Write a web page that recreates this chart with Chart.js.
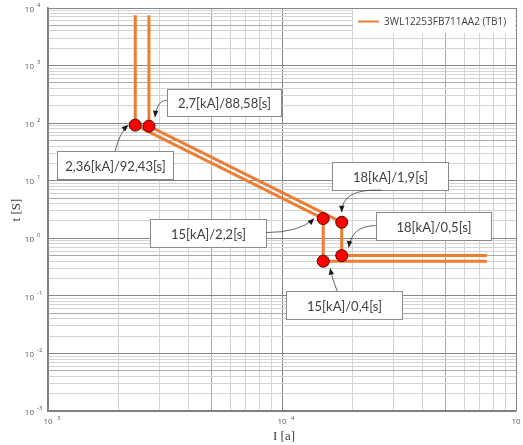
<!DOCTYPE html>
<html>
<head>
<meta charset="utf-8">
<script src="https://cdn.jsdelivr.net/npm/chart.js@4/dist/chart.umd.min.js"></script>
<style>
  html, body { margin: 0; padding: 0; background: #fff; }
  #wrap { width: 523px; height: 445px; }
</style>
</head>
<body>
<div id="wrap"><canvas id="tripChart" width="523" height="445"></canvas></div>
<script>
// curve of the breaker, two bands (current in A, time in s)
const bandLowI = [2360, 2360, 15000, 15000, 75000];
const bandLowT = [7500, 92.43, 2.2, 0.4, 0.4];
const bandHighI = [2700, 2700, 18000, 18000, 75000];
const bandHighT = [7500, 88.58, 1.9, 0.5, 0.5];

// marked points and their labels
const markI = [2360, 2700, 15000, 18000, 18000, 15000];
const markT = [92.43, 88.58, 2.2, 1.9, 0.5, 0.4];
const markText = ["2,36[kA]/92,43[s]", "2,7[kA]/88,58[s]", "15[kA]/2,2[s]",
                  "18[kA]/1,9[s]", "18[kA]/0,5[s]", "15[kA]/0,4[s]"];

const seriesName = "3WL12253FB711AA2 (TB1)";
const xDecades = [3, 4, 5];
const yDecades = [-3, -2, -1, 0, 1, 2, 3, 4];

// box placement relative to the marked point: [dx, dy, w, h]
const boxLayout = [
  [-78, 26, 116, 28], [18, -37, 114, 27], [-173, 0, 116, 28],
  [-10, -60, 116, 28], [34, -44, 115, 28], [-37, 30, 116, 28]
];
// arrow start, control, end relative to the marked point
const arrowLayout = [
  [[-20, 26], [-16, 8], [-7, 0]],
  [[18, -26], [8, -26], [6, -9]],
  [[-57, 14], [-24, 14], [-9, 0]],
  [[40, -32], [0, -34], [0, -10]],
  [[34, -30], [10, -30], [7, -8]],
  [[14, 30], [9, 18], [7, 7]]
];

const orange = "#ED7D31";

function logTicks(lo, hi) {
  const out = [];
  for (let e = lo; e < hi; e++) {
    for (let m = 1; m <= 9; m++) out.push(m * Math.pow(10, e));
  }
  out.push(Math.pow(10, hi));
  return out;
}

function gridColor(v) {
  const e = Math.floor(Math.log10(v) + 1e-9);
  const m = Math.round(v / Math.pow(10, e));
  if (m === 1) return "#858585";
  if (m === 5) return "#aaaaaa";
  return "#d4d4d4";
}

const toPts = (xs, ys) => xs.map((x, i) => ({ x: x, y: ys[i] }));

const overlay = {
  id: "overlay",
  afterDraw(chart) {
    const c = chart.ctx;
    const xs = chart.scales.x, ys = chart.scales.y;
    const area = chart.chartArea;
    c.save();

    // tick labels
    c.fillStyle = "#595959";
    c.textBaseline = "middle";
    yDecades.forEach(e => {
      const py = ys.getPixelForValue(Math.pow(10, e));
      c.font = "8px 'Open Sans'";
      c.textAlign = "right";
      c.fillText("10", 34, py + 1.5);
      c.font = "6px 'Open Sans'";
      c.textAlign = "left";
      c.fillText(String(e), 37, py - 3);
    });
    xDecades.forEach(e => {
      const px = xs.getPixelForValue(Math.pow(10, e));
      c.font = "8px 'Open Sans'";
      c.textAlign = "center";
      c.fillText("10", px, area.bottom + 11);
      c.font = "6px 'Open Sans'";
      c.textAlign = "left";
      c.fillText(String(e), px + 9, area.bottom + 7);
    });

    // axis titles
    c.fillStyle = "#404040";
    c.font = "13px 'Liberation Serif'";
    c.textAlign = "center";
    c.fillText("I [a]", 284, 437);
    c.save();
    c.translate(17, 210);
    c.rotate(-Math.PI / 2);
    c.fillText("t [S]", 0, 0);
    c.restore();

    // legend
    c.fillStyle = "#fff";
    c.fillRect(353, area.top + 1, area.right - 354, 24);
    c.strokeStyle = orange;
    c.lineWidth = 2;
    c.beginPath();
    c.moveTo(358, 21.5);
    c.lineTo(379, 21.5);
    c.stroke();
    c.fillStyle = "#404040";
    c.font = "10px 'Open Sans'";
    c.textAlign = "left";
    c.fillText(seriesName, 384, 22);

    // annotations
    markI.forEach((iv, k) => {
      const px = xs.getPixelForValue(iv);
      const py = ys.getPixelForValue(markT[k]);
      const [dx, dy, w, h] = boxLayout[k];
      const bx = Math.round(px + dx) + 0.5, by = Math.round(py + dy) + 0.5;
      c.fillStyle = "#fff";
      c.fillRect(bx, by, w, h);
      c.strokeStyle = "#8a8a8a";
      c.lineWidth = 1;
      c.strokeRect(bx, by, w, h);
      c.fillStyle = "#404040";
      c.font = "13px Lato";
      c.textAlign = "center";
      c.fillText(markText[k], bx + w / 2, by + h / 2 + 1);

      const [s, q, t] = arrowLayout[k];
      const sx = px + s[0], sy = py + s[1];
      const qx = px + q[0], qy = py + q[1];
      const tx = px + t[0], ty = py + t[1];
      c.strokeStyle = "#3f3f3f";
      c.lineWidth = 0.8;
      c.beginPath();
      c.moveTo(sx, sy);
      c.quadraticCurveTo(qx, qy, tx, ty);
      c.stroke();
      const ang = Math.atan2(ty - qy, tx - qx);
      c.fillStyle = "#1a1a1a";
      c.beginPath();
      c.moveTo(tx, ty);
      c.lineTo(tx - 7 * Math.cos(ang - 0.4), ty - 7 * Math.sin(ang - 0.4));
      c.lineTo(tx - 7 * Math.cos(ang + 0.4), ty - 7 * Math.sin(ang + 0.4));
      c.closePath();
      c.fill();
    });
    c.restore();
  }
};

new Chart(document.getElementById("tripChart").getContext("2d"), {
  type: "scatter",
  data: {
    datasets: [
      {
        label: seriesName,
        data: toPts(bandLowI, bandLowT),
        showLine: true,
        borderColor: orange,
        borderWidth: 3,
        pointRadius: 0,
        order: 2,
      },
      {
        label: seriesName + " b",
        data: toPts(bandHighI, bandHighT),
        showLine: true,
        borderColor: orange,
        borderWidth: 3,
        pointRadius: 0,
        order: 2,
      },
      {
        label: "marks",
        data: toPts(markI, markT),
        pointRadius: 6,
        pointBackgroundColor: "#ff0000",
        pointBorderColor: "#4a0a00",
        pointBorderWidth: 1,
        order: 1,
      },
    ],
  },
  options: {
    responsive: false,
    animation: false,
    layout: { padding: { left: 48, right: 6, top: 8, bottom: 34 } },
    plugins: {
      legend: { display: false },
      tooltip: { enabled: false },
    },
    scales: {
      x: {
        type: "logarithmic",
        min: 1000,
        max: 100000,
        afterBuildTicks: s => { s.ticks = logTicks(3, 5).map(v => ({ value: v })); },
        ticks: { display: false },
        grid: { color: ctx => gridColor(ctx.tick.value), drawTicks: false, lineWidth: 1 },
        border: { color: "#7f7f7f", width: 1.5 },
      },
      y: {
        type: "logarithmic",
        min: 0.001,
        max: 10000,
        afterBuildTicks: s => { s.ticks = logTicks(-3, 4).map(v => ({ value: v })); },
        ticks: { display: false },
        grid: { color: ctx => gridColor(ctx.tick.value), drawTicks: false, lineWidth: 1 },
        border: { color: "#7f7f7f", width: 1.5 },
      },
    },
  },
  plugins: [overlay],
});
</script>
</body>
</html>
